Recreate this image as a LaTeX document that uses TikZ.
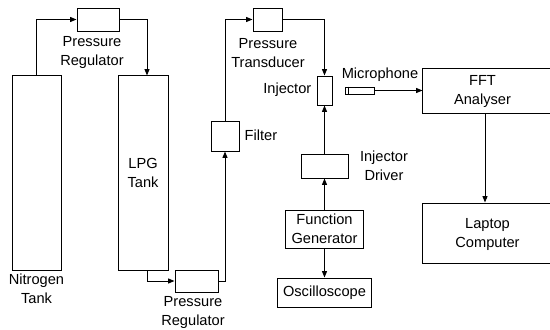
\documentclass[tikz,border=0pt]{standalone}
\usepackage{fontspec}
\setmainfont{Liberation Sans}
\usetikzlibrary{arrows.meta, calc, positioning}

\begin{document}
\begin{tikzpicture}[
  x=0.025cm, y=-0.025cm,
  every node/.style={font=\fontsize{10.4}{13.5}\selectfont},
  box/.style={draw, line width=0.7pt, inner sep=0pt, align=center},
  lbl/.style={align=center, inner sep=1pt},
  arr/.style={-{Triangle[length=4.5pt, width=3.5pt]}, line width=0.7pt},
]
  \useasboundingbox (0,0) rectangle (550,329);

  %% ── Tanks ──
  \node[box, minimum width=1.225cm, minimum height=4.85cm] (nitro) at (36.5, 173) {};
  \node[lbl, anchor=north] (nitrolbl) at (36.5, 272) {Nitrogen\\Tank};
  \node[box, minimum width=1.25cm, minimum height=4.85cm] (lpg) at (143, 173) {LPG\\Tank};

  %% ── Regulators, filter, transducer ──
  \node[box, minimum width=1.05cm, minimum height=0.575cm] (reg1) at (98, 19.5) {};
  \node[lbl] (reg1lbl) at (92, 52.5) {Pressure\\Regulator};
  \node[box, minimum width=1.075cm, minimum height=0.55cm] (reg2) at (196.5, 281) {};
  \node[lbl] (reg2lbl) at (193, 312.5) {Pressure\\Regulator};
  \node[box, minimum width=0.7cm, minimum height=0.75cm] (filter) at (225, 136) {};
  \node[lbl, anchor=west] (filterlbl) at (243, 135) {Filter};
  \node[box, minimum width=0.725cm, minimum height=0.575cm] (trans) at (267.5, 19.5) {};
  \node[lbl] (translbl) at (268, 53) {Pressure\\Transducer};

  %% ── Injector chain ──
  \node[box, minimum width=0.375cm, minimum height=0.725cm] (inj) at (324.5, 90.5) {};
  \node[lbl, anchor=east] (injlbl) at (313, 90) {Injector};
  \node[box, minimum width=1.175cm, minimum height=0.6cm] (driver) at (324.5, 166) {};
  \node[lbl] (driverlbl) at (384, 166) {Injector\\Driver};
  \node[box, minimum width=1.95cm, minimum height=0.95cm] (fg) at (324.5, 229) {Function\\Generator};
  \node[box, minimum width=2.35cm, minimum height=0.725cm] (osc) at (324.5, 292.5) {Oscilloscope};

  %% ── Measurement ──
  \node[box, minimum width=0.725cm, minimum height=0.175cm] (mic) at (359.5, 90.5) {};
  \draw[line width=0.7pt] ([xshift=0.1cm]mic.north west) -- ([xshift=0.1cm]mic.south west);
  \node[lbl] (miclbl) at (380, 75) {Microphone};
  \node[box, minimum width=3.325cm, minimum height=1.125cm] (fft) at (489.5, 90.5) {};
  \node[lbl] (fftlbl) at (482.5, 91) {FFT\\Analyser};
  \node[box, minimum width=3.325cm, minimum height=1.5cm] (laptop) at (489.5, 233) {};
  \node[lbl] (laptoplbl) at (487.5, 234.5) {Laptop\\Computer};

  %% ═══ FLOW ARROWS ═══
  \draw[arr] (nitro.north) |- (reg1.west);
  \draw[arr] (reg1.east) -| ([xshift=0.1cm]lpg.north);
  \draw[arr] ([xshift=0.1cm]lpg.south) |- (reg2.west);
  \draw[arr] (reg2.east) -| (filter.south);
  \draw[arr] (filter.north) |- (trans.west);
  \draw[arr] (trans.east) -| (inj.north);

  %% driver chain
  \draw[arr] (driver.north) -- (inj.south);
  \draw[arr] (fg.north) -- (driver.south);
  \draw[arr] (fg.south) -- (osc.north);

  %% signal
  \draw[arr] (mic.east) -- (fft.west);
  \draw[arr] ([xshift=-0.1125cm]fft.south) -- ([xshift=-0.1125cm]laptop.north);
\end{tikzpicture}
\end{document}
